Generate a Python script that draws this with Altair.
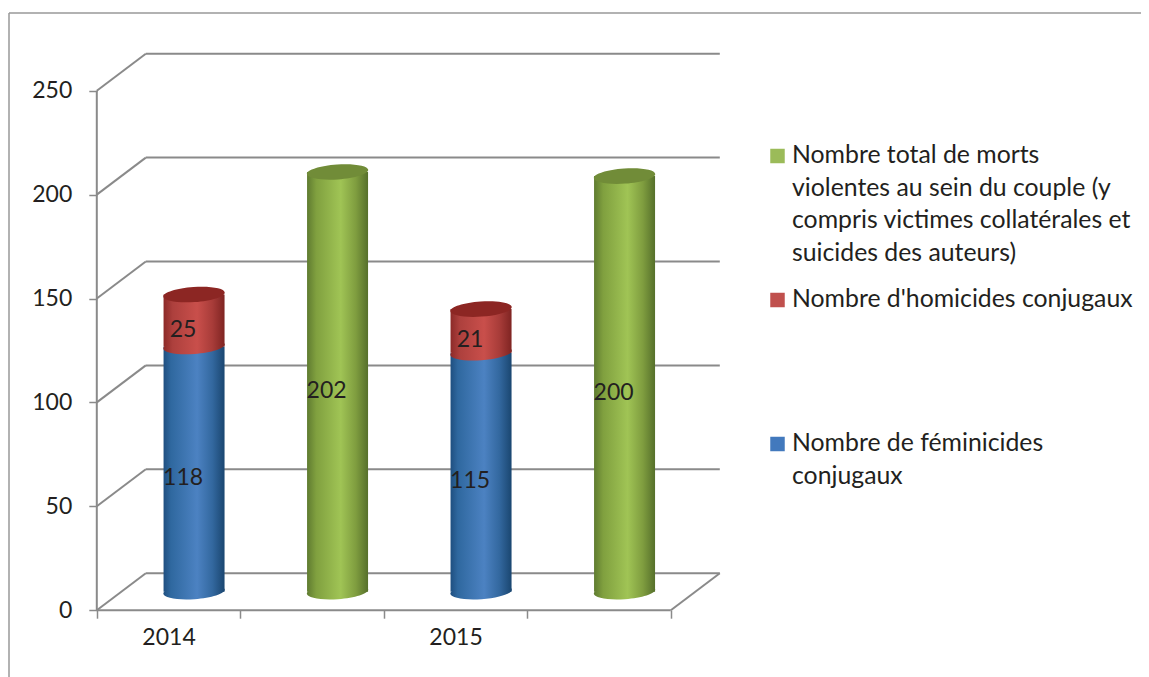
import altair as alt
import pandas as pd

years = ["2014", "2015"]
feminicides = [118, 115]
homicides = [25, 21]
totals = [202, 200]
y_ticks = [0, 50, 100, 150, 200, 250]
x_ticks = [0, 1, 2, 3, 4]
x_label_pos = [0.5, 2.5]

# chart geometry: slots on x, values on y, plus the oblique depth of the 3D box
W, H = 1133, 669
PX_X, PX_Y = 143.5, 2.078
ORIGIN_X, ORIGIN_Y = 96.8 - 8, 610.2 - 8
DX, DY = 49 / PX_X, 37 / PX_Y
BAR_SHIFT = 0.007
x_scale = alt.Scale(domain=[-ORIGIN_X / PX_X, (W - ORIGIN_X) / PX_X], nice=False, zero=False, padding=0)
y_scale = alt.Scale(domain=[(ORIGIN_Y - H) / PX_Y, ORIGIN_Y / PX_Y], nice=False, zero=False, padding=0)

GRID = "#8a8a8a"
TEXT = "#231f20"
FONT = "Lato"
FS = 23
LEGEND_FS = 24.8


def grad(stops):
    return alt.Gradient(gradient="linear", x1=0, x2=1, y1=0, y2=0,
                        stops=[alt.GradientStop(offset=o, color=c) for o, c in stops])


BLUE = grad([(0, "#1f4f80"), (0.12, "#2f689f"), (0.55, "#4c82c2"), (0.8, "#33689f"), (1, "#1a4670")])
RED = grad([(0, "#8c2a28"), (0.15, "#ad403d"), (0.55, "#c94f4b"), (0.8, "#a83c39"), (1, "#7f2422")])
GREEN = grad([(0, "#5f7b30"), (0.15, "#80a03f"), (0.55, "#a0c455"), (0.8, "#7f9d3f"), (1, "#56702b")])
RED_TOP = "#8c2623"
GREEN_TOP = "#718c38"

A = 0.9976
B = 0.0698
ELLIPSE = f"M{-A},{B} A1,0.245 -4 1 1 {A},{-B} A1,0.245 -4 1 1 {-A},{B} Z"
ELLIPSE_SIZE = 61.5 ** 2

# grid and box
rules = []
for v in y_ticks:
    rules.append(dict(x=DX, x2=4 + DX, y=v + DY, y2=v + DY))
    rules.append(dict(x=0, x2=DX, y=v, y2=v + DY))
rules.append(dict(x=4, x2=4 + DX, y=0, y2=DY))
rules.append(dict(x=0, x2=4, y=0, y2=0))
rules.append(dict(x=0, x2=0, y=0, y2=250))
rules_df = pd.DataFrame(rules)

x_axis = alt.Axis(values=sorted(x_ticks + x_label_pos), grid=False, domain=False,
                  offset=-(H - ORIGIN_Y), tickSize=8, tickWidth=1.5, tickColor=GRID,
                  tickOpacity=alt.condition("datum.value % 1 == 0", alt.value(1), alt.value(0)),
                  labelExpr="datum.value == 0.5 ? '2014' : datum.value == 2.5 ? '2015' : ''",
                  labelFont=FONT, labelFontSize=FS, labelColor=TEXT, labelPadding=8,
                  labelFlush=False, labelOverlap=False)
y_axis = alt.Axis(values=y_ticks, grid=False, domain=False, offset=-ORIGIN_X,
                  tickSize=8, tickWidth=1.5, tickColor=GRID, labelFont=FONT,
                  labelFontSize=FS, labelColor=TEXT, labelPadding=17, labelOverlap=False)


def X(field="x"):
    return alt.X(f"{field}:Q", scale=x_scale, title=None, axis=x_axis)


def Y(field="y"):
    return alt.Y(f"{field}:Q", scale=y_scale, title=None, axis=y_axis)


grid = alt.Chart(rules_df).mark_rule(color=GRID, strokeWidth=2).encode(
    x=X(), x2="x2:Q", y=Y(), y2="y2:Q")

# cylinders
rows = []
for i, yr in enumerate(years):
    c0 = 2 * i + 0.5 + DX / 2 + BAR_SHIFT
    c1 = 2 * i + 1.5 + DX / 2 + BAR_SHIFT
    rows.append(dict(s="blue", x=c0, start=0, end=feminicides[i], label=feminicides[i]))
    rows.append(dict(s="red", x=c0, start=feminicides[i], end=feminicides[i] + homicides[i], label=homicides[i]))
    rows.append(dict(s="green", x=c1, start=0, end=totals[i], label=totals[i]))
df = pd.DataFrame(rows)
df["y"] = df["start"] + DY / 2
df["y2"] = df["end"] + DY / 2
df["mid"] = (df["y"] + df["y2"]) / 2


def cyl(series, fill, top):
    d = df[df.s == series]
    layers = [
        alt.Chart(d).mark_point(filled=True, fill=fill, shape=ELLIPSE, size=ELLIPSE_SIZE, opacity=1, strokeWidth=0)
        .encode(x=X(), y=Y()),
        alt.Chart(d).mark_bar(fill=fill, size=61, strokeWidth=0)
        .encode(x=X(), y=Y(), y2="y2:Q"),
    ]
    if top:
        layers.append(
            alt.Chart(d).mark_point(filled=True, fill=top, shape=ELLIPSE, size=ELLIPSE_SIZE, opacity=1, strokeWidth=0)
            .encode(x=X(), y=Y("y2")))
    return layers


labels = alt.Chart(df).mark_text(font=FONT, fontSize=FS, color=TEXT, dx=-11, dy=9).encode(
    x=X(), y=Y("mid"), text="label:Q")

# frame
frame_top = alt.Chart(pd.DataFrame({"a": [0]})).mark_rule(color="#999999", strokeWidth=1.5).encode(
    x=alt.value(1), x2=alt.value(W), y=alt.value(5))
frame_left = alt.Chart(pd.DataFrame({"a": [0]})).mark_rule(color="#999999", strokeWidth=1.5).encode(
    x=alt.value(1), y=alt.value(5), y2=alt.value(H))

# legend, in the source's own order and spacing
legend_entries = [
    ("#9bbb59", "Nombre total de morts\nviolentes au sein du couple (y\ncompris victimes collatérales et\nsuicides des auteurs)", 148),
    ("#c0504d", "Nombre d'homicides conjugaux", 292),
    ("#4279bd", "Nombre de féminicides\nconjugaux", 436),
]
legend = []
for color, text, py in legend_entries:
    one = pd.DataFrame({"a": [0]})
    legend.append(alt.Chart(one).mark_point(shape="square", filled=True, color=color, size=210, opacity=1).encode(
        x=alt.value(769.5), y=alt.value(py)))
    legend.append(alt.Chart(one).mark_text(font=FONT, fontSize=LEGEND_FS, color=TEXT, align="left", baseline="middle",
                                           lineBreak="\n", lineHeight=32.5).encode(
        x=alt.value(784), y=alt.value(py), text=alt.value(text)))

chart = alt.layer(
    frame_top, frame_left, grid,
    *cyl("blue", BLUE, None), *cyl("red", RED, RED_TOP), *cyl("green", GREEN, GREEN_TOP),
    labels, *legend,
).properties(width=W, height=H, padding=0, autosize="none").configure(
    background="white", view=alt.ViewConfig(stroke=None))

chart.save("out.html", embed_options={"renderer": "svg", "actions": False})
